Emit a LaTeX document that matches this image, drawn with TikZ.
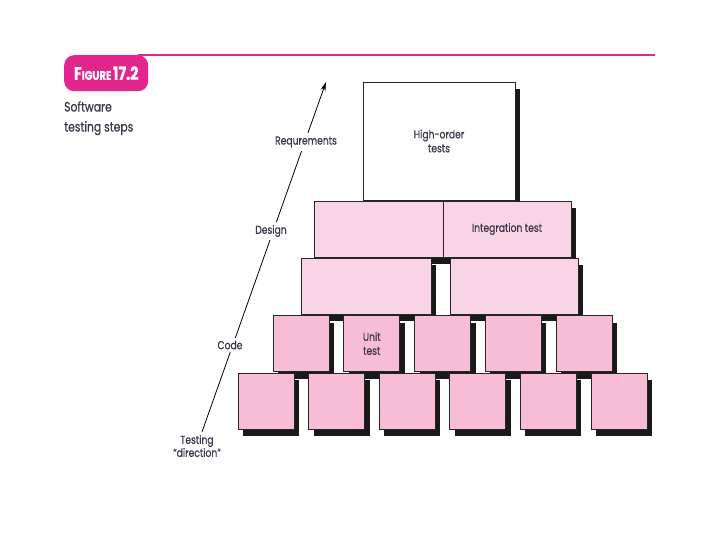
\documentclass[tikz,border=0pt]{standalone}
\usepackage{fontspec}
\setmainfont{Poppins}[FakeStretch=0.8, FakeBold=0.6]
\usetikzlibrary{shadows,arrows.meta}
\definecolor{magent}{HTML}{E3268E}
\definecolor{pinkA}{HTML}{F7BDD7}
\definecolor{pinkB}{HTML}{F9D3E6}
\definecolor{txt}{HTML}{3A3748}
\begin{document}
\begin{tikzpicture}[x=1pt,y=-1pt,
  blk/.style={draw=black!85, line width=0.9pt, inner sep=0pt, outer sep=0pt,
    drop shadow={shadow xshift=5pt, shadow yshift=-7pt, fill=black!90, opacity=1}},
  topbox/.style={blk, fill=white, minimum width=152pt, minimum height=118pt},
  midbox/.style={blk, fill=pinkB, minimum height=56pt},
  unitbox/.style={blk, fill=pinkA, minimum height=56pt, minimum width=56pt},
  boxtext/.style={text=txt, font=\fontsize{11.5}{14}\selectfont, align=center},
  lbl/.style={fill=white, text=txt, inner sep=3pt, font=\fontsize{11.5}{13}\selectfont, align=center}
]
\useasboundingbox[fill=white] (0,0) rectangle (720,540);

% header
\coordinate (lineL) at (138,55);
\coordinate (lineR) at (655,55);
\draw[magent, line width=2pt] (lineL) -- (lineR);
\node (badge) [fill=magent, rounded corners=10pt, minimum width=84pt, minimum height=36pt,
  anchor=north west, inner sep=0pt, text=white, font=\bfseries]
  at (64,55) {{\fontsize{18}{18}\selectfont F}{\fontsize{12.5}{12}\selectfont IGURE}\,{\fontsize{18}{18}\selectfont 17.2}};
\node (caption) [anchor=north west, align=left, text=txt, inner sep=0pt,
  font=\fontsize{13.5}{20}\selectfont] at (64,101) {Software\\testing steps};

% row 1
\node (high) [topbox] at (439,141) {};
% row 2
\node (des1) [midbox, minimum width=129pt] at (378.5,229) {};
\node (des2) [midbox, minimum width=128pt] at (507,229) {};
% row 3
\node (mid1) [midbox, minimum width=130pt] at (366,286) {};
\node (mid2) [midbox, minimum width=128pt] at (514,286) {};
% row 4
\node (u1) [unitbox] at (301,343.5) {};
\node (u2) [unitbox] at (371.75,343.5) {};
\node (u3) [unitbox] at (442.5,343.5) {};
\node (u4) [unitbox] at (513.25,343.5) {};
\node (u5) [unitbox] at (584,343.5) {};
% row 5
\node (b1) [unitbox] at (266,401) {};
\node (b2) [unitbox] at (336.6,401) {};
\node (b3) [unitbox] at (407.2,401) {};
\node (b4) [unitbox] at (477.8,401) {};
\node (b5) [unitbox] at (548.4,401) {};
\node (b6) [unitbox] at (619,401) {};

% box texts
\node (hightxt) [boxtext] at (high) {High-order\\tests};
\node (inttxt) [boxtext] at (des2) {Integration test};
\node (unittxt) [boxtext] at (u2) {Unit\\test};

% testing direction arrow
\node (tst) [lbl] at (197,446) {Testing\\``direction''};
\coordinate (tip) at (326,82);
\draw[line width=0.8pt, -{Stealth[length=9pt, width=5pt]}] (tst) -- (tip);
\node (req) [lbl] at (306,142) {Requrements};
\node (dsg) [lbl] at (271,231) {Design};
\node (cod) [lbl] at (230,345) {Code};
\end{tikzpicture}
\end{document}
